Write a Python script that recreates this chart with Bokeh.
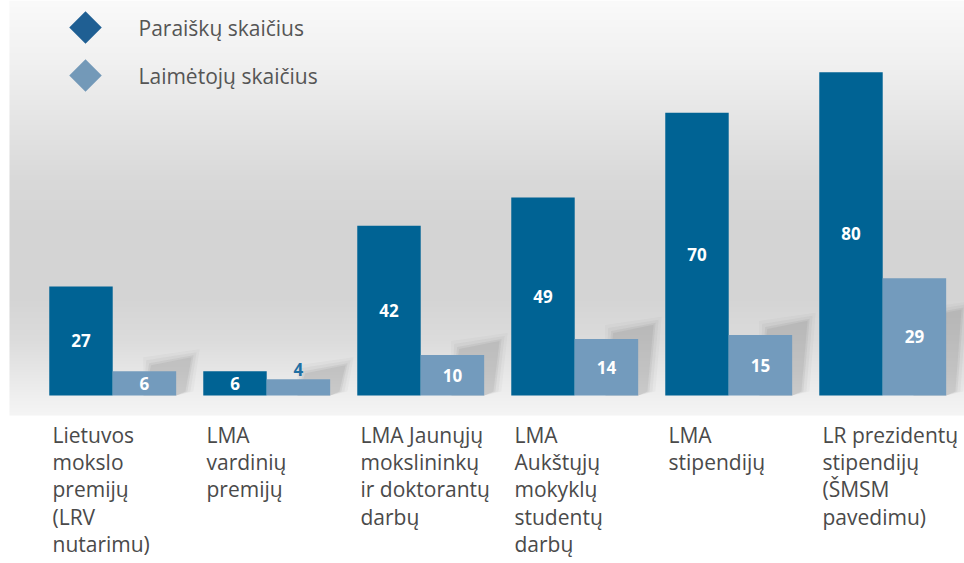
import numpy as np
from bokeh.plotting import figure
from bokeh.models import Range1d, ColumnDataSource
from bokeh.core.properties import value
from bokeh.embed import file_html
from bokeh.resources import INLINE

# ---------------- data ----------------
categories = [
    "Lietuvos\nmokslo\npremijų\n(LRV\nnutarimu)",
    "LMA\nvardinių\npremijų",
    "LMA Jaunųjų\nmokslininkų\nir doktorantų\ndarbų",
    "LMA\nAukštųjų\nmokyklų\nstudentų\ndarbų",
    "LMA\nstipendijų",
    "LR prezidentų\nstipendijų\n(ŠMSM\npavedimu)",
]
applications = [27, 6, 42, 49, 70, 80]   # Paraiškų skaičius
winners = [6, 4, 10, 14, 15, 29]         # Laimėtojų skaičius
series_names = ["Paraiškų skaičius", "Laimėtojų skaičius"]

# ---------------- layout constants ----------------
W, H = 964, 563
px_x = 154.0              # pixels per category
px_y = 4.04               # pixels per unit
x0_px = 52.0              # pixel position of first category label
base_px = 395.0           # baseline pixel (from top)
bg_bottom_px = 415.0      # bottom of grey plot background
x_start = -x0_px / px_x
x_end = x_start + W / px_x
y_end = base_px / px_y
y_start = -(H - base_px) / px_y

def ypix(py):
    """screen pixel (from top) -> data y"""
    return (base_px - py) / px_y

def xpix(px):
    return x_start + px / px_x

DARK = "#006394"
LIGHT = "#739bbd"
off_dark, off_light, bw = 0.185, 0.597, 0.412

p = figure(width=W, height=H, output_backend="svg", toolbar_location=None,
           x_range=Range1d(x_start, x_end), y_range=Range1d(y_start, y_end),
           min_border_left=0, min_border_right=0, min_border_top=0,
           min_border_bottom=0)
p.outline_line_color = None
p.background_fill_color = "white"
p.border_fill_color = "white"
p.grid.visible = False
p.yaxis.visible = False
p.xaxis.visible = False

# ---------------- gradient background ----------------
nrows = int(bg_bottom_px)
ys_ref = bg_bottom_px - 0.5 - np.arange(nrows)
stops = [0, 60, 120, 180, 230, 300, 340, 380, 400, 415]
greys = [250, 241, 229, 217, 212, 213, 220, 234, 241, 245]
g = np.interp(ys_ref, stops, greys).astype(np.uint8)
img = np.empty((nrows, 1), dtype=np.uint32)
view = img.view(dtype=np.uint8).reshape((nrows, 1, 4))
view[:, 0, 0] = g
view[:, 0, 1] = g
view[:, 0, 2] = g
view[:, 0, 3] = 255
gx0 = xpix(9.0)
p.image_rgba(image=[img], x=gx0, y=ypix(bg_bottom_px), dw=x_end - gx0,
             dh=y_end - ypix(bg_bottom_px))

# ---------------- soft shadows behind light bars ----------------
idx = np.arange(len(categories))
for grow, alpha in [(8, 0.03), (5, 0.05), (2, 0.07), (0, 0.08)]:
    xs_list, ys_list = [], []
    for i, w in zip(idx, winners):
        xl = i + off_light - bw / 2
        xr = i + off_light + bw / 2
        sh = min(w * px_y + 6, 78) / px_y
        gx = grow / px_x
        gy = grow / px_y
        xs_list.append([xl + 0.2, xl + 0.25 - gx, xr + 0.10 + gx, xr + 0.06 + gx, xr])
        ys_list.append([0, sh + gy, sh + 2 + gy, 1.0, 0])
    p.patches(xs_list, ys_list, fill_color="#4a4a4a", fill_alpha=alpha, line_color=None)

# ---------------- bars ----------------
p.vbar(x=idx + off_dark, top=applications, width=bw, bottom=0, fill_color=DARK, line_color=None)
p.vbar(x=idx + off_light, top=winners, width=bw, bottom=0, fill_color=LIGHT, line_color=None)

# ---------------- value labels ----------------
lx, ly, lt, lc, lb = [], [], [], [], []
for i, (a, w) in enumerate(zip(applications, winners)):
    for off, v in ((off_dark, a), (off_light, w)):
        lx.append(i + off)
        lt.append(str(v))
        if v * px_y >= 20:
            ly.append(v / 2.0)
            lc.append("white")
            lb.append("middle")
        else:
            ly.append(v + 3.0 / px_y)
            lc.append("#1f6fa3")
            lb.append("bottom")
src = ColumnDataSource(dict(x=lx, y=ly, t=lt, c=lc, b=lb))
p.text(x="x", y="y", text="t", source=src, text_color="c", text_baseline="b",
       text_align="center", text_font=value("Open Sans"), text_font_style="bold",
       text_font_size="17px")

# ---------------- legend (diamonds) ----------------
leg_x = xpix(85)
leg_y = [ypix(27), ypix(75)]
p.scatter(x=[leg_x, leg_x], y=leg_y, marker="square", angle=np.pi / 4, size=23,
          fill_color=["#1f5f93", "#7399b8"], line_color=None)
p.text(x=[xpix(138)] * 2, y=leg_y, text=series_names, text_color="#555555",
       text_baseline="middle", text_align="left", text_font=value("Open Sans"),
       text_font_size="21px")

# ---------------- category labels (below the bars) ----------------
p.text(x=idx, y=[ypix(420)] * len(categories), text=categories, text_align="left",
       text_baseline="top", text_font=value("Open Sans"), text_font_size="21px",
       text_color="#4a4a4a", text_line_height=0.98)

open("out.html", "w").write(file_html(p, INLINE))
